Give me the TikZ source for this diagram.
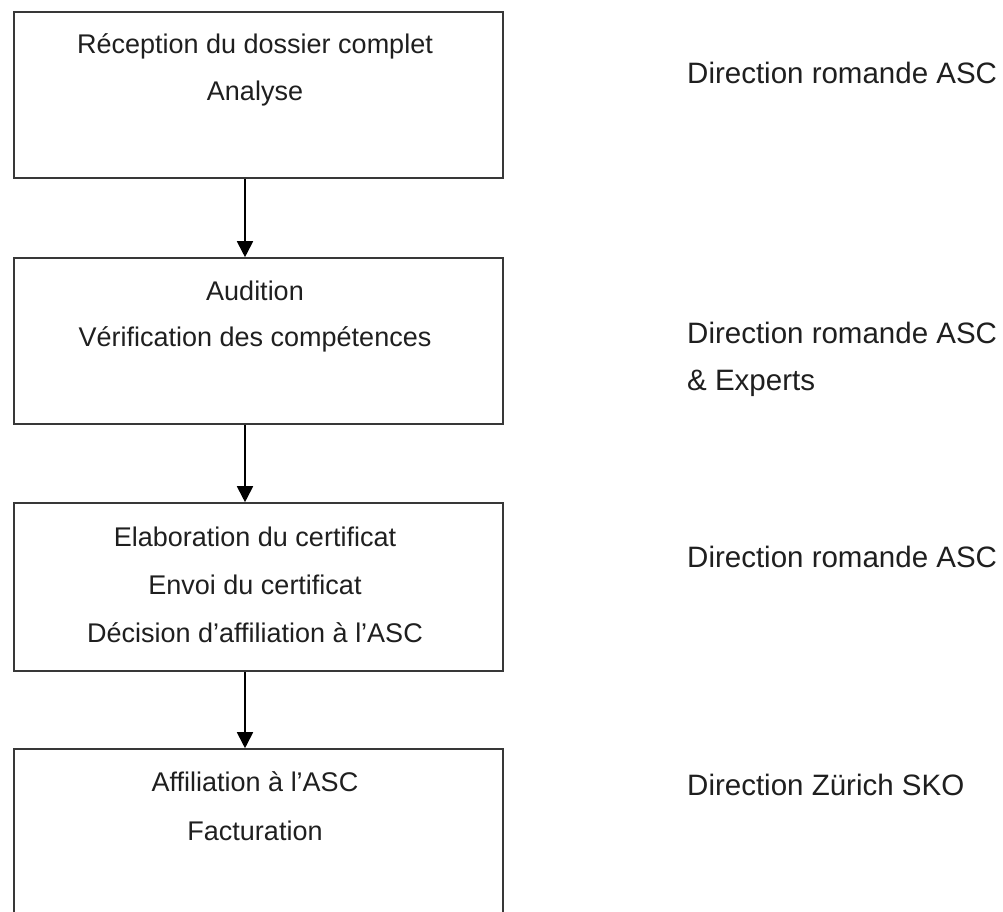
\documentclass[tikz,border=0pt]{standalone}
\usepackage{fontspec}
\setmainfont{Liberation Sans}
\usetikzlibrary{arrows.meta}
\tikzset{
  stepbox/.style={draw=black!78, line width=1.6pt, rectangle, inner sep=0pt, minimum width=489pt},
  boxtxt/.style={anchor=base, inner sep=0pt, text=black!88, font=\fontsize{27}{32}\selectfont},
  sidetxt/.style={anchor=base west, inner sep=0pt, text=black!88, font=\fontsize{29.5}{35}\selectfont},
  arr/.style={draw=black, line width=1.8pt, -{Triangle[length=16pt,width=16pt]}}
}
\begin{document}
\begin{tikzpicture}[x=1pt,y=-1pt]
\clip (0,0) rectangle (1003,911);
\fill[white] (0,0) rectangle (1003,911);
% boxes
\node[stepbox, minimum height=166pt] (b1) at (258.5,95) {};
\node[stepbox, minimum height=166pt] (b2) at (258.5,341) {};
\node[stepbox, minimum height=168pt] (b3) at (258.5,587) {};
\node[stepbox, minimum height=166pt] (b4) at (258.5,832) {};
% box texts
\node[boxtxt] (t11) at (255,53) {Réception du dossier complet};
\node[boxtxt] (t12) at (255,100) {Analyse};
\node[boxtxt] (t21) at (255,300) {Audition};
\node[boxtxt] (t22) at (255,346) {Vérification des compétences};
\node[boxtxt] (t31) at (255,546) {Elaboration du certificat};
\node[boxtxt] (t32) at (255,594) {Envoi du certificat};
\node[boxtxt] (t33) at (255,642) {Décision d’affiliation à l’ASC};
\node[boxtxt] (t41) at (255,791) {Affiliation à l’ASC};
\node[boxtxt] (t42) at (255,840) {Facturation};
% side labels
\node[sidetxt] (s1) at (687,83) {Direction romande ASC};
\node[sidetxt] (s2) at (687,343) {Direction romande ASC};
\node[sidetxt] (s2b) at (687,390) {\& Experts};
\node[sidetxt] (s3) at (687,567) {Direction romande ASC};
\node[sidetxt] (s4) at (687,795) {Direction Zürich SKO};
% arrows
\coordinate (ax) at (245,0);
\draw[arr] (b1.south -| ax) -- (b2.north -| ax);
\draw[arr] (b2.south -| ax) -- (b3.north -| ax);
\draw[arr] (b3.south -| ax) -- (b4.north -| ax);
\end{tikzpicture}
\end{document}
